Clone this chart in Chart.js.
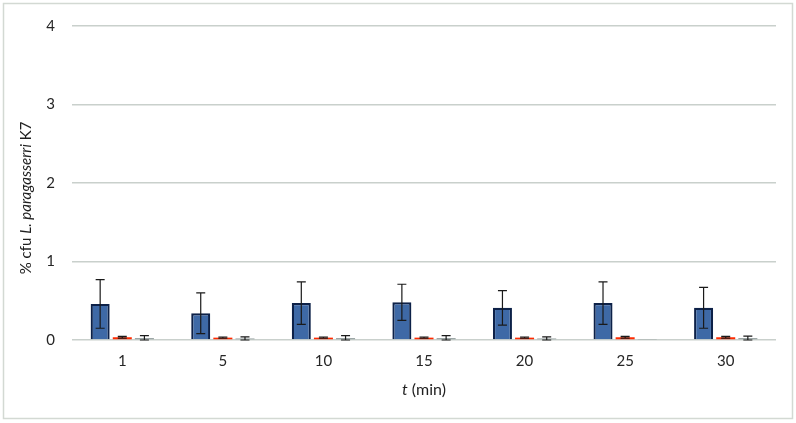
<!DOCTYPE html>
<html>
<head>
<meta charset="utf-8">
<script src="https://cdn.jsdelivr.net/npm/chart.js@4/dist/chart.umd.min.js"></script>
<style>
  html, body { margin: 0; padding: 0; background: #ffffff; }
  #wrap { position: relative; width: 796px; height: 423px; }
</style>
</head>
<body>
<div id="wrap"><canvas id="c" width="796" height="423"></canvas></div>
<script>
// ---- Data ----
const categories = ['1', '5', '10', '15', '20', '25', '30'];
const blueValues = [0.46, 0.34, 0.47, 0.48, 0.41, 0.47, 0.41];
const blueErrors = [0.31, 0.26, 0.27, 0.23, 0.22, 0.27, 0.26];
const redValues  = [0.035, 0.03, 0.03, 0.03, 0.03, 0.035, 0.035];
const redErrors  = [0.01, 0.008, 0.008, 0.008, 0.008, 0.01, 0.012];
const grayValues = [0.025, 0.02, 0.025, 0.025, 0.02, 0.005, 0.025];
const grayErrors = [0.03, 0.02, 0.03, 0.03, 0.02, 0.0, 0.025];
const yTicks = [0, 1, 2, 3, 4];

const FONT = 'Lato, "Liberation Sans", sans-serif';

const errorBarPlugin = {
  id: 'errorBars',
  afterDatasetsDraw(chart) {
    const ctx = chart.ctx;
    const yScale = chart.scales.y;
    chart.data.datasets.forEach((ds, di) => {
      const meta = chart.getDatasetMeta(di);
      if (!ds.errors) return;
      meta.data.forEach((bar, i) => {
        const v = ds.data[i];
        const e = ds.errors[i];
        if (!e) return;
        const x = bar.x;
        const yTop = yScale.getPixelForValue(v + e);
        const yBot = yScale.getPixelForValue(Math.max(v - e, 0));
        const cap = 4.5;
        ctx.save();
        ctx.strokeStyle = '#1a1a1a';
        ctx.lineWidth = 1.2;
        ctx.beginPath();
        ctx.moveTo(x, yTop); ctx.lineTo(x, yBot);
        ctx.moveTo(x - cap, yTop); ctx.lineTo(x + cap, yTop);
        ctx.moveTo(x - cap, yBot); ctx.lineTo(x + cap, yBot);
        ctx.stroke();
        ctx.restore();
      });
    });
  }
};

const decorPlugin = {
  id: 'decor',
  beforeDraw(chart) {
    const ctx = chart.ctx;
    ctx.save();
    ctx.fillStyle = '#ffffff';
    ctx.fillRect(0, 0, chart.width, chart.height);
    ctx.strokeStyle = '#d3d9d3';
    ctx.lineWidth = 1.5;
    ctx.strokeRect(3.5, 3.5, 789, 415);
    ctx.restore();
  },
  afterDraw(chart) {
    const ctx = chart.ctx;
    const area = chart.chartArea;
    ctx.save();
    ctx.fillStyle = '#1f1f1f';
    ctx.textBaseline = 'middle';
    // x-axis title: italic t + " (min)"
    const p1 = 't', p2 = ' (min)';
    ctx.font = 'italic 16px ' + FONT;
    const w1 = ctx.measureText(p1).width;
    ctx.font = '16px ' + FONT;
    const w2 = ctx.measureText(p2).width;
    const cx = (area.left + area.right) / 2;
    let x = cx - (w1 + w2) / 2;
    ctx.textAlign = 'left';
    ctx.font = 'italic 16px ' + FONT;
    ctx.fillText(p1, x, 390);
    ctx.font = '16px ' + FONT;
    ctx.fillText(p2, x + w1, 390);

    // y-axis title rotated
    const parts = [['% cfu ', ''], ['L. paragasserri', 'italic '], [' K7', '']];
    let total = 0;
    parts.forEach(p => { ctx.font = p[1] + '15px ' + FONT; p.push(ctx.measureText(p[0]).width); total += p[2]; });
    ctx.translate(26, 198);
    ctx.rotate(-Math.PI / 2);
    let px = -total / 2;
    parts.forEach(p => {
      ctx.font = p[1] + '15px ' + FONT;
      ctx.fillText(p[0], px, 0);
      px += p[2];
    });
    ctx.restore();
  }
};

new Chart(document.getElementById('c'), {
  type: 'bar',
  data: {
    labels: categories,
    datasets: [
      { label: 'A', data: blueValues, errors: blueErrors,
        backgroundColor: '#3e69a6', borderColor: '#0d2148', borderWidth: 2.2,
        categoryPercentage: 0.66, barPercentage: 0.86 },
      { label: 'B', data: redValues, errors: redErrors,
        backgroundColor: '#ff2a00', borderWidth: 0,
        categoryPercentage: 0.66, barPercentage: 0.86 },
      { label: 'C', data: grayValues, errors: grayErrors,
        backgroundColor: '#9aa4a4', borderWidth: 0,
        categoryPercentage: 0.66, barPercentage: 0.86 }
    ]
  },
  options: {
    responsive: false,
    animation: false,
    layout: { padding: { left: 0, top: 22, right: 20, bottom: 0 } },
    plugins: { legend: { display: false }, tooltip: { enabled: false } },
    scales: {
      x: {
        grid: { display: false, drawTicks: false },
        border: { display: false },
        ticks: { font: { family: FONT, size: 15 }, color: '#262626', padding: 12 },
        afterFit(scale) { scale.height = 83; }
      },
      y: {
        min: 0, max: 4,
        afterBuildTicks(scale) { scale.ticks = yTicks.map(v => ({ value: v })); },
        grid: { color: '#c9d0cc', lineWidth: 1.5, drawTicks: false },
        border: { display: false },
        ticks: { font: { family: FONT, size: 15 }, color: '#262626', padding: 17 },
        afterFit(scale) { scale.width = 72; }
      }
    }
  },
  plugins: [decorPlugin, errorBarPlugin]
});
</script>
</body>
</html>
